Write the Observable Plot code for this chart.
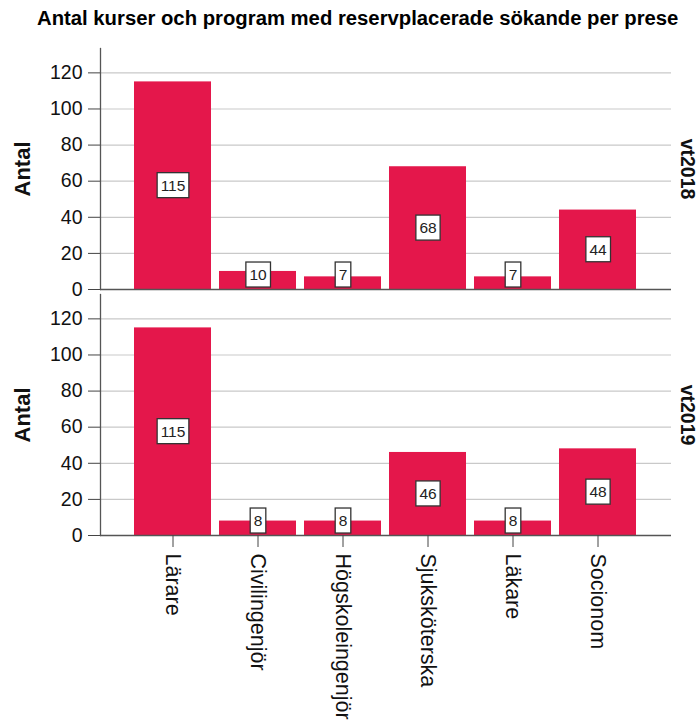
<!DOCTYPE html>
<html>
<head>
<meta charset="utf-8">
<script src="https://cdn.jsdelivr.net/npm/d3@7"></script>
<script src="https://cdn.jsdelivr.net/npm/@observablehq/plot@0.6"></script>
<style>
  html, body { margin: 0; padding: 0; background: #fff; width: 699px; height: 722px; overflow: hidden; }
  #title { font-family: "Liberation Sans", Arial, sans-serif; font-weight: bold; font-size: 20.3px;
           white-space: nowrap; overflow: hidden; height: 40px; box-sizing: border-box;
           padding-left: 37px; padding-top: 6px; line-height: 24px; color: #000; width: 699px; }
  #chart svg { display: block; }
</style>
</head>
<body>
<div id="title"></div>
<div id="chart"></div>
<script>
const titleText = "Antal kurser och program med reservplacerade sökande per prese";
const yLabel = "Antal";
const categories = ["Lärare", "Civilingenjör", "Högskoleingenjör", "Sjuksköterska", "Läkare", "Socionom"];
const periods = ["vt2018", "vt2019"];
const values2018 = [115, 10, 7, 68, 7, 44];
const values2019 = [115, 8, 8, 46, 8, 48];
const yTicks = [0, 20, 40, 60, 80, 100, 120];

document.getElementById("title").textContent = titleText;

const seriesByPeriod = [values2018, values2019];
const data = periods.flatMap((p, i) =>
  categories.map((c, j) => ({period: p, category: c, value: seriesByPeriod[i][j]}))
);

const chart = Plot.plot({
  width: 699,
  height: 682,
  marginTop: 8,
  marginBottom: 186,
  marginLeft: 100,
  marginRight: 28,
  style: {fontFamily: "'Liberation Sans', Arial, sans-serif", fontSize: "19.5px", color: "#111", background: "white"},
  x: {domain: categories, paddingInner: 0.093, paddingOuter: 0.367, label: null},
  y: {domain: [0, 133.5], label: null},
  fy: {domain: periods, paddingInner: 0.02, paddingOuter: 0, label: null, axis: null},
  marks: [
    Plot.gridY(yTicks, {stroke: "#c9c9c9", strokeOpacity: 1, strokeWidth: 1.2}),
    Plot.barY(data, {x: "category", y: "value", fy: "period", fill: "#e4174b"}),
    Plot.ruleY([0], {stroke: "#555", strokeWidth: 1.3}),
    Plot.frame({anchor: "left", stroke: "#555", strokeWidth: 1.3}),
    Plot.axisY({ticks: yTicks, tickSize: 12, tickPadding: 6, fontSize: 19.5, stroke: "#444", fill: "#111", label: null}),
    Plot.axisX({tickRotate: 90, tickSize: 12, tickPadding: 6, fontSize: 21.5, stroke: "#444", fill: "#111", label: null}),
    Plot.text(data, {
      x: "category", y: d => Math.max(d.value / 2, 8), fy: "period",
      text: d => String(d.value), fontSize: 15.5, fill: "#222"
    }),
    Plot.text(periods, {
      fy: d => d, text: d => d, frameAnchor: "right", rotate: 90, dx: 16,
      fontWeight: "bold", fontSize: 19.5, fill: "#111", textAnchor: "middle", lineAnchor: "middle"
    }),
    Plot.text(periods, {
      fy: d => d, text: () => yLabel, frameAnchor: "left", rotate: -90, dx: -78,
      fontWeight: "bold", fontSize: 22, fill: "#111", textAnchor: "middle", lineAnchor: "middle"
    })
  ]
});

document.getElementById("chart").append(chart);

// draw white boxes with a dark border behind the value labels (first text mark)
const NS = "http://www.w3.org/2000/svg";
const textGroups = chart.querySelectorAll('g[aria-label="text"]');
if (textGroups.length) {
  textGroups[0].querySelectorAll("text").forEach(t => {
    const b = t.getBBox();
    const padX = 3.5, boxH = 25;
    const r = document.createElementNS(NS, "rect");
    r.setAttribute("x", b.x - padX);
    r.setAttribute("y", b.y + b.height / 2 - boxH / 2);
    r.setAttribute("width", b.width + 2 * padX);
    r.setAttribute("height", boxH);
    r.setAttribute("fill", "white");
    r.setAttribute("stroke", "#333");
    r.setAttribute("stroke-width", "1.3");
    if (t.getAttribute("transform")) r.setAttribute("transform", t.getAttribute("transform"));
    t.parentNode.insertBefore(r, t);
  });
}
</script>
</body>
</html>
